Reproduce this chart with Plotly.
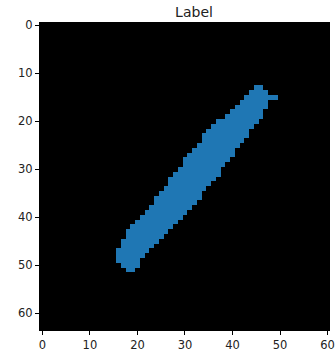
import numpy as np
import plotly.graph_objects as go

# Label mask: for each image row, the first and last filled column
rows = list(range(13, 52))
left_cols = [45, 44, 43, 42, 41, 40, 39, 37, 36, 35, 34, 34, 33, 32, 31, 30, 30, 29, 28, 27,
             27, 26, 25, 24, 24, 23, 22, 21, 20, 19, 18, 18, 17, 17, 16, 16, 16, 17, 18]
right_cols = [46, 47, 49, 47, 47, 46, 46, 45, 44, 43, 43, 42, 41, 40, 40, 39, 38, 37, 37, 36,
              35, 34, 33, 33, 32, 31, 30, 29, 28, 27, 26, 25, 24, 23, 22, 21, 20, 20, 19]
size = 64
x_ticks = [0, 10, 20, 30, 40, 50, 60]
y_ticks = [0, 10, 20, 30, 40, 50, 60]

mask = np.zeros((size, size), dtype=int)
for r, a, b in zip(rows, left_cols, right_cols):
    mask[r, a:b + 1] = 1

fig = go.Figure(go.Heatmap(
    z=mask, x=list(range(size)), y=list(range(size)),
    colorscale=[[0, "#000000"], [1, "#1f77b4"]], zmin=0, zmax=1,
    showscale=False, hoverinfo="skip"))

axis_common = dict(
    showgrid=False, zeroline=False, ticks="outside", ticklen=4, tickwidth=1,
    tickcolor="black", showline=True, linecolor="black", linewidth=1, mirror=True,
    ticklabeloverflow="allow",
    tickfont=dict(family="DejaVu Sans", size=11.5, color="#222222"))

fig.update_xaxes(range=[-0.5, 60.3], tickvals=x_ticks, **axis_common)
fig.update_yaxes(range=[63.5, -0.5], tickvals=y_ticks, **axis_common)

fig.update_layout(
    width=335, height=352,
    margin=dict(l=40, r=0, t=23, b=19),
    paper_bgcolor="white", plot_bgcolor="black",
    title=dict(text="Label", x=194 / 335, xref="container", xanchor="center",
               y=1 - 12 / 352, yref="container", yanchor="middle",
               font=dict(family="DejaVu Sans", size=14, color="#222222")),
)

fig.write_html("out.html")
